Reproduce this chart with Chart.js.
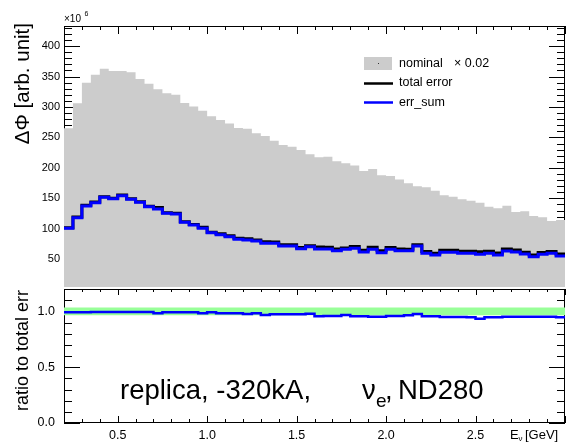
<!DOCTYPE html>
<html>
<head>
<meta charset="utf-8">
<script src="https://cdn.jsdelivr.net/npm/chart.js@4.4.1/dist/chart.umd.min.js"></script>
<style>
  html, body { margin: 0; padding: 0; background: #fff; }
  #wrap { position: relative; width: 566px; height: 443px; overflow: hidden; background: #fff; }
  #topBox { position: absolute; left: 0; top: 0; width: 566px; height: 287px; }
  #botBox { position: absolute; left: 0; top: 287px; width: 566px; height: 156px; }
</style>
</head>
<body>
<div id="wrap">
  <div id="topBox"><canvas id="fluxChart"></canvas></div>
  <div id="botBox"><canvas id="ratioChart"></canvas></div>
</div>
<script>
// Bins de energía (GeV): borde inferior de cada bin, ancho 0.05
const binLow = [0.20, 0.25, 0.30, 0.35, 0.40, 0.45, 0.50, 0.55, 0.60, 0.65,
                0.70, 0.75, 0.80, 0.85, 0.90, 0.95, 1.00, 1.05, 1.10, 1.15,
                1.20, 1.25, 1.30, 1.35, 1.40, 1.45, 1.50, 1.55, 1.60, 1.65,
                1.70, 1.75, 1.80, 1.85, 1.90, 1.95, 2.00, 2.05, 2.10, 2.15,
                2.20, 2.25, 2.30, 2.35, 2.40, 2.45, 2.50, 2.55, 2.60, 2.65,
                2.70, 2.75, 2.80, 2.85, 2.90, 2.95];
const binHigh = 3.0;

// nominal x 0.02 (unidades de 1e6)
const nominalScaled = [265, 306, 340, 353, 363, 359, 359, 357, 346, 338,
                       329, 322.5, 320, 306.6, 301, 294, 285, 278.6, 273, 265.5,
                       264.4, 256.8, 252.4, 244.7, 237.6, 234.8, 229.4, 222.3, 217.4, 218.4,
                       211, 207.5, 204, 195, 198, 187.8, 186.7, 181, 174.7, 170,
                       168, 162.6, 155, 152.7, 148.4, 146, 142.9, 136.3, 133.6, 138,
                       127.6, 128.7, 121, 118.9, 112.8, 114.4];

// total error
const totalError = [101.7, 119.3, 138.6, 143.8, 152.6, 150.3, 155.3, 149.3, 144.4, 137.1,
                    134.9, 126.5, 125.4, 111.7, 107.2, 102.6, 94.4, 91.9, 88.6, 84.3,
                    83.6, 81.5, 78.8, 78.3, 73.8, 73.8, 69.2, 72.1, 69.9, 69.7,
                    66.8, 68.6, 71.1, 64.8, 69.7, 63.9, 69.2, 66.8, 66.4, 73.6,
                    62.6, 59.7, 64.7, 64.7, 63.0, 63.2, 62.2, 63.2, 60.3, 66.7,
                    65.0, 61.6, 56.9, 61.0, 62.8, 58.5];

// err_sum
const errSum = [100.8, 118.2, 137.4, 142.9, 151.7, 149.4, 154.4, 148.4, 143.5, 136.3,
                132.5, 125.4, 124.3, 110.7, 106.2, 100.8, 93.6, 90.3, 87, 82.8,
                81.6, 80, 76.2, 76.2, 71.8, 71.8, 67.3, 70.6, 66.8, 66.8,
                64, 66.3, 67.9, 61.9, 66.3, 60.8, 66.3, 64, 64, 71.8,
                59.8, 57, 61.4, 61.4, 59.8, 59.8, 58.1, 59.8, 57, 63.5,
                61.9, 58.6, 54.2, 58.1, 59.8, 55.3];

// err_sum / total error (panel inferior)
const ratioErrSum = [0.991, 0.991, 0.991, 0.994, 0.994, 0.994, 0.994, 0.994, 0.994, 0.994,
                     0.982, 0.991, 0.991, 0.991, 0.991, 0.982, 0.991, 0.982, 0.982, 0.982,
                     0.976, 0.982, 0.967, 0.973, 0.973, 0.973, 0.973, 0.979, 0.955, 0.958,
                     0.958, 0.967, 0.955, 0.955, 0.952, 0.952, 0.958, 0.958, 0.964, 0.976,
                     0.955, 0.955, 0.949, 0.949, 0.949, 0.946, 0.934, 0.946, 0.946, 0.952,
                     0.952, 0.952, 0.952, 0.952, 0.952, 0.946];

// banda verde (límites inferior y superior)
const ratioBand = [0.965, 1.035];

const fluxTicks = [50, 100, 150, 200, 250, 300, 350, 400];
const ratioTicks = [0.0, 0.5, 1.0];
const energyTicks = [0.5, 1.0, 1.5, 2.0, 2.5];

const FONT = "'Liberation Sans', Arial, Helvetica, sans-serif";

// Convertir valores por bin en puntos para una línea escalonada
function toSteps(values) {
    const pts = binLow.map((x, i) => ({ x: x, y: values[i] }));
    pts.push({ x: binHigh, y: values[values.length - 1] });
    return pts;
}

// Quitar el relleno que Chart.js reserva para las etiquetas de los extremos
function noEdgePadding(s) {
    s.paddingTop = 0;
    s.paddingBottom = 0;
    s.paddingLeft = 0;
    s.paddingRight = 0;
}

// Marco y ticks hacia adentro, estilo ROOT
function makeFramePlugin(cfg) {
    return {
        id: "rootFrame",
        beforeDatasetsDraw(chart) {
            const ctx = chart.ctx;
            const a = chart.chartArea;
            const xs = chart.scales.x;
            const ys = chart.scales.y;
            ctx.save();
            ctx.strokeStyle = "#000";
            ctx.lineWidth = 1;
            ctx.strokeRect(a.left + 0.5, a.top + 0.5, a.right - a.left - 1, a.bottom - a.top - 1);
            ctx.beginPath();
            // ticks eje y (izquierda y derecha)
            const yRatio = Math.round(cfg.yMajor / cfg.yMinor);
            for (let n = Math.ceil(ys.min / cfg.yMinor - 1e-9); n * cfg.yMinor <= ys.max + 1e-9; n++) {
                const py = Math.round(ys.getPixelForValue(n * cfg.yMinor)) + 0.5;
                const len = n % yRatio === 0 ? cfg.yLen[0] : cfg.yLen[1];
                ctx.moveTo(a.left, py); ctx.lineTo(a.left + len, py);
                ctx.moveTo(a.right, py); ctx.lineTo(a.right - len, py);
            }
            // ticks eje x (arriba y abajo)
            const xRatio = Math.round(cfg.xMajor / cfg.xMinor);
            for (let n = Math.ceil(xs.min / cfg.xMinor - 1e-9); n * cfg.xMinor <= xs.max + 1e-9; n++) {
                const px = Math.round(xs.getPixelForValue(n * cfg.xMinor)) + 0.5;
                const major = n % xRatio === 0;
                if (cfg.topLen) {
                    const len = major ? cfg.topLen[0] : cfg.topLen[1];
                    ctx.moveTo(px, a.top); ctx.lineTo(px, a.top + len);
                }
                if (cfg.bottomLen) {
                    const len = major ? cfg.bottomLen[0] : cfg.bottomLen[1];
                    ctx.moveTo(px, a.bottom); ctx.lineTo(px, a.bottom - len);
                }
            }
            ctx.stroke();
            ctx.restore();
        }
    };
}

// Leyenda y títulos del panel superior
const fluxTextPlugin = {
    id: "fluxText",
    afterDraw(chart) {
        const ctx = chart.ctx;
        const ds = chart.data.datasets;
        ctx.save();
        // leyenda
        ctx.fillStyle = ds[0].backgroundColor;
        ctx.fillRect(364, 57, 28, 13);
        ctx.fillStyle = "#333";
        ctx.fillRect(378, 63, 1, 1);
        ctx.lineWidth = 2.5;
        ctx.strokeStyle = ds[1].borderColor;
        ctx.beginPath(); ctx.moveTo(364, 83.5); ctx.lineTo(393, 83.5); ctx.stroke();
        ctx.strokeStyle = ds[2].borderColor;
        ctx.beginPath(); ctx.moveTo(364, 102.5); ctx.lineTo(393, 102.5); ctx.stroke();
        ctx.fillStyle = "#000";
        ctx.font = "12.5px " + FONT;
        ctx.textBaseline = "middle";
        ctx.textAlign = "left";
        ctx.fillText("nominal", 399, 64);
        ctx.fillText("\u00d7 0.02", 454, 64);
        ctx.fillText("total error", 399, 83);
        ctx.fillText("err_sum", 399, 102.5);
        // factor de escala del eje y
        ctx.textBaseline = "alphabetic";
        ctx.font = "10px " + FONT;
        ctx.fillText("\u00d710", 64, 22);
        ctx.font = "7px " + FONT;
        ctx.fillText("6", 84.5, 16);
        // título eje y
        ctx.translate(23, 23);
        ctx.rotate(-Math.PI / 2);
        ctx.font = "20.5px " + FONT;
        ctx.textAlign = "right";
        ctx.textBaseline = "middle";
        ctx.fillText("\u0394\u03a6 [arb. unit]", 0, 0);
        ctx.restore();
    }
};

// Etiqueta principal y títulos del panel inferior (coordenadas locales: y global - 287)
const ratioTextPlugin = {
    id: "ratioText",
    afterDraw(chart) {
        const ctx = chart.ctx;
        ctx.save();
        ctx.fillStyle = "#000";
        ctx.textAlign = "left";
        ctx.textBaseline = "alphabetic";
        ctx.font = "27.5px " + FONT;
        ctx.fillText("replica, -320kA,", 120, 112);
        ctx.fillText("\u03bd", 362, 112);
        ctx.fillText(",", 385, 112);
        ctx.fillText("ND280", 398, 112);
        ctx.font = "19px " + FONT;
        ctx.fillText("e", 376, 119.5);
        // título eje x
        ctx.font = "13px " + FONT;
        ctx.fillText("E", 510, 152);
        ctx.font = "8px " + FONT;
        ctx.fillText("\u03bd", 518.5, 154);
        ctx.font = "13px " + FONT;
        ctx.fillText("[GeV]", 525, 152);
        // título eje y
        ctx.translate(23.5, 3);
        ctx.rotate(-Math.PI / 2);
        ctx.font = "18px " + FONT;
        ctx.textAlign = "right";
        ctx.textBaseline = "middle";
        ctx.fillText("ratio to total err", 0, 0);
        ctx.restore();
    }
};

// En Chart.js, stepped "before" mantiene el valor del punto hasta el siguiente borde
const stepLine = {
    stepped: "before",
    pointRadius: 0,
    borderCapStyle: "butt",
    borderJoinStyle: "miter",
    fill: false
};

// Panel superior: flujo
new Chart(document.getElementById("fluxChart"), {
    type: "line",
    data: {
        datasets: [
            Object.assign({}, stepLine, {
                label: "nominal",
                data: toSteps(nominalScaled),
                fill: "start",
                backgroundColor: "#cccccc",
                borderColor: "#cccccc",
                borderWidth: 0,
                order: 3
            }),
            Object.assign({}, stepLine, {
                label: "total error",
                data: toSteps(totalError),
                borderColor: "#000000",
                borderWidth: 3,
                order: 2
            }),
            Object.assign({}, stepLine, {
                label: "err_sum",
                data: toSteps(errSum),
                borderColor: "#0000ff",
                borderWidth: 3,
                order: 1
            })
        ]
    },
    options: {
        responsive: true,
        maintainAspectRatio: false,
        animation: false,
        layout: { padding: { top: 26, right: 1, left: 0, bottom: 0 } },
        plugins: { legend: { display: false }, tooltip: { enabled: false } },
        scales: {
            x: { type: "linear", min: 0.2, max: binHigh, display: false },
            y: {
                min: 4.4,
                max: 433,
                afterFit: (s) => { s.width = 64; noEdgePadding(s); },
                afterBuildTicks: (s) => { s.ticks = fluxTicks.map((v) => ({ value: v })); },
                grid: { display: false, drawTicks: false },
                border: { display: false },
                ticks: { color: "#000", padding: 4, font: { family: FONT, size: 11 } }
            }
        }
    },
    plugins: [
        makeFramePlugin({ yMinor: 10, yMajor: 50, yLen: [16, 8], xMinor: 0.1, xMajor: 0.5, topLen: [8, 4] }),
        fluxTextPlugin
    ]
});

// Panel inferior: cociente
new Chart(document.getElementById("ratioChart"), {
    type: "line",
    data: {
        datasets: [
            Object.assign({}, stepLine, {
                label: "err_sum ratio",
                data: toSteps(ratioErrSum),
                borderColor: "#0000ff",
                borderWidth: 2.5,
                order: 1
            }),
            {
                label: "band high",
                data: [{ x: 0.2, y: ratioBand[1] }, { x: binHigh, y: ratioBand[1] }],
                borderWidth: 0,
                pointRadius: 0,
                fill: "+1",
                backgroundColor: "#99ff99",
                order: 2
            },
            {
                label: "band low",
                data: [{ x: 0.2, y: ratioBand[0] }, { x: binHigh, y: ratioBand[0] }],
                borderWidth: 0,
                pointRadius: 0,
                fill: false,
                order: 3
            }
        ]
    },
    options: {
        responsive: true,
        maintainAspectRatio: false,
        animation: false,
        layout: { padding: { top: 2, right: 1, left: 0, bottom: 0 } },
        plugins: { legend: { display: false }, tooltip: { enabled: false } },
        scales: {
            x: {
                type: "linear",
                min: 0.2,
                max: binHigh,
                afterFit: (s) => { s.height = 20; noEdgePadding(s); },
                afterBuildTicks: (s) => { s.ticks = energyTicks.map((v) => ({ value: v })); },
                grid: { display: false, drawTicks: false },
                border: { display: false },
                ticks: {
                    color: "#000",
                    padding: 5,
                    maxRotation: 0,
                    font: { family: FONT, size: 12.5 },
                    callback: (v) => Number(v).toFixed(1)
                }
            },
            y: {
                min: 0,
                max: 1.2,
                afterFit: (s) => { s.width = 64; noEdgePadding(s); },
                afterBuildTicks: (s) => { s.ticks = ratioTicks.map((v) => ({ value: v })); },
                grid: { display: false, drawTicks: false },
                border: { display: false },
                ticks: {
                    color: "#000",
                    padding: 9,
                    font: { family: FONT, size: 12.5 },
                    callback: (v) => Number(v).toFixed(1)
                }
            }
        }
    },
    plugins: [
        makeFramePlugin({ yMinor: 0.1, yMajor: 0.5, yLen: [16, 8], xMinor: 0.1, xMajor: 0.5, topLen: [6, 3], bottomLen: [7, 4] }),
        ratioTextPlugin
    ]
});
</script>
</body>
</html>
